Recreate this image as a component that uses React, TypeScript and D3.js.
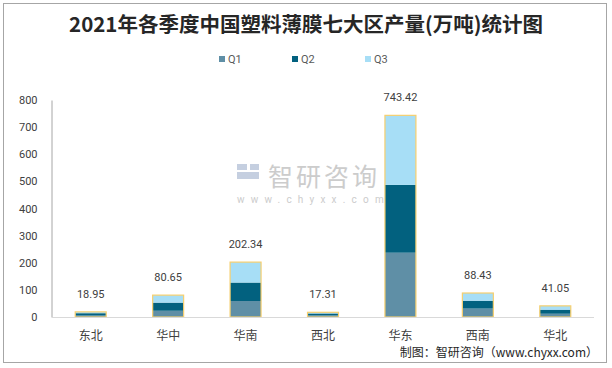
import React, { useEffect, useRef } from 'react';
import { axisLeft, scaleBand, scaleLinear, select, stack } from 'd3';

const regions = ['东北', '华中', '华南', '西北', '华东', '西南', '华北'];
const q1 = [5.5, 23, 59, 6, 237, 31, 12];
const q2 = [8.5, 30, 68, 7, 250, 29, 15];
const q3 = [4.95, 27.65, 75.34, 4.31, 256.42, 28.43, 14.05];
const totals = [18.95, 80.65, 202.34, 17.31, 743.42, 88.43, 41.05];
const yTicks = [0, 100, 200, 300, 400, 500, 600, 700, 800];
const seriesNames = ['Q1', 'Q2', 'Q3'];
const colors = ['#5f8fa6', '#02617f', '#a7def6'];

const W = 612;
const H = 368;

const Chart = () => {
  const ref = useRef<SVGSVGElement | null>(null);

  useEffect(() => {
    const svg = select(ref.current);
    svg.selectAll('*').remove();
    const sans = 'Roboto, "Noto Sans CJK SC", sans-serif';

    svg
      .append('rect')
      .attr('x', 3.5)
      .attr('y', 3.5)
      .attr('width', 603)
      .attr('height', 359)
      .attr('fill', '#fff')
      .attr('stroke', '#a6a6a6');

    svg
      .append('text')
      .attr('x', 306)
      .attr('y', 32)
      .attr('text-anchor', 'middle')
      .attr('font-family', '"Noto Sans CJK SC", sans-serif')
      .attr('font-weight', 'bold')
      .attr('font-size', 20.5)
      .attr('fill', '#262626')
      .text('2021年各季度中国塑料薄膜七大区产量(万吨)统计图');

    // legend
    const legend = svg.append('g').attr('font-family', sans).attr('font-size', 11).attr('fill', '#595959');
    seriesNames.forEach((n, i) => {
      const lx = 219 + i * 73;
      legend.append('rect').attr('x', lx).attr('y', 56).attr('width', 6).attr('height', 6).attr('fill', colors[i]);
      legend.append('text').attr('x', lx + 9).attr('y', 63).text(n);
    });

    // watermark
    const wm = svg.append('g').attr('fill', '#cfd3d8');
    wm.append('rect').attr('x', 237).attr('y', 164).attr('width', 10).attr('height', 6).attr('fill', '#c5cfe0');
    wm.append('rect').attr('x', 237).attr('y', 172).attr('width', 22).attr('height', 7).attr('fill', '#c5cfe0');
    wm.append('rect').attr('x', 250).attr('y', 164).attr('width', 9).attr('height', 6).attr('fill', '#c5cfe0');
    wm.append('text')
      .attr('x', 268)
      .attr('y', 186)
      .attr('font-family', '"Noto Sans CJK SC", sans-serif')
      .attr('font-size', 25)
      .attr('letter-spacing', 3)
      .attr('fill', '#cccccc')
      .text('智研咨询');
    wm.append('text')
      .attr('x', 237)
      .attr('y', 203)
      .attr('font-family', sans)
      .attr('font-size', 10)
      .attr('letter-spacing', 6.2)
      .attr('fill', '#cccccc')
      .text('www.chyxx.com');

    const margin = { left: 52, right: 18, top: 100, bottom: 51 };
    const innerW = W - margin.left - margin.right;
    const innerH = H - margin.top - margin.bottom;

    const g = svg.append('g').attr('transform', `translate(${margin.left},${margin.top})`);

    const x = scaleBand().domain(regions).range([0, innerW]).paddingInner(0.6).paddingOuter(0.3);
    const y = scaleLinear().domain([0, 800]).range([innerH, 0]);

    const yAxis = g.append('g').attr('transform', 'translate(-0.5,0)').call(axisLeft(y).tickValues(yTicks).tickSize(0).tickPadding(14));
    yAxis.select('.domain').attr('stroke', '#a6a6a6');
    yAxis.selectAll('text').attr('font-family', sans).attr('font-size', 11).attr('fill', '#404040');

    const rows = regions.map((r, i) => ({ region: r, Q1: q1[i], Q2: q2[i], Q3: q3[i] }));
    const layers = stack<any>().keys(seriesNames)(rows);

    layers.forEach((layer, li) => {
      g.selectAll(`.s${li}`)
        .data(layer)
        .enter()
        .append('rect')
        .attr('x', (d: any) => x(d.data.region) ?? 0)
        .attr('y', (d) => y(d[1]))
        .attr('width', x.bandwidth())
        .attr('height', (d) => y(d[0]) - y(d[1]))
        .attr('fill', colors[li]);
    });

    // total outline
    g.selectAll('.total')
      .data(totals)
      .enter()
      .append('rect')
      .attr('x', (_, i) => x(regions[i]) ?? 0)
      .attr('y', (d) => y(d))
      .attr('width', x.bandwidth())
      .attr('height', (d) => innerH - y(d))
      .attr('fill', 'none')
      .attr('stroke', '#f6cf6e')
      .attr('stroke-width', 1.2);

    g.selectAll('.lbl')
      .data(totals)
      .enter()
      .append('text')
      .attr('x', (_, i) => (x(regions[i]) ?? 0) + x.bandwidth() / 2)
      .attr('y', (d) => y(d) - 14)
      .attr('text-anchor', 'middle')
      .attr('font-family', sans)
      .attr('font-size', 11)
      .attr('fill', '#404040')
      .text((d) => d.toFixed(2));

    g.append('line')
      .attr('x1', 0)
      .attr('x2', innerW)
      .attr('y1', innerH + 0.5)
      .attr('y2', innerH + 0.5)
      .attr('stroke', '#d9d9d9');

    g.selectAll('.xl')
      .data(regions)
      .enter()
      .append('text')
      .attr('x', (d) => (x(d) ?? 0) + x.bandwidth() / 2)
      .attr('y', innerH + 23)
      .attr('text-anchor', 'middle')
      .attr('font-family', '"Noto Sans CJK SC", sans-serif')
      .attr('font-size', 12)
      .attr('fill', '#404040')
      .text((d) => d);

    svg
      .append('text')
      .attr('x', 598)
      .attr('y', 357)
      .attr('text-anchor', 'end')
      .attr('font-family', '"Noto Sans CJK SC", sans-serif')
      .attr('font-size', 12)
      .attr('fill', '#262626')
      .text('制图：智研咨询（www.chyxx.com）');
  }, []);

  return <svg ref={ref} width={W} height={H} style={{ position: 'absolute', left: 0, top: 0 }} />;
};

export default function App() {
  return <Chart />;
}
